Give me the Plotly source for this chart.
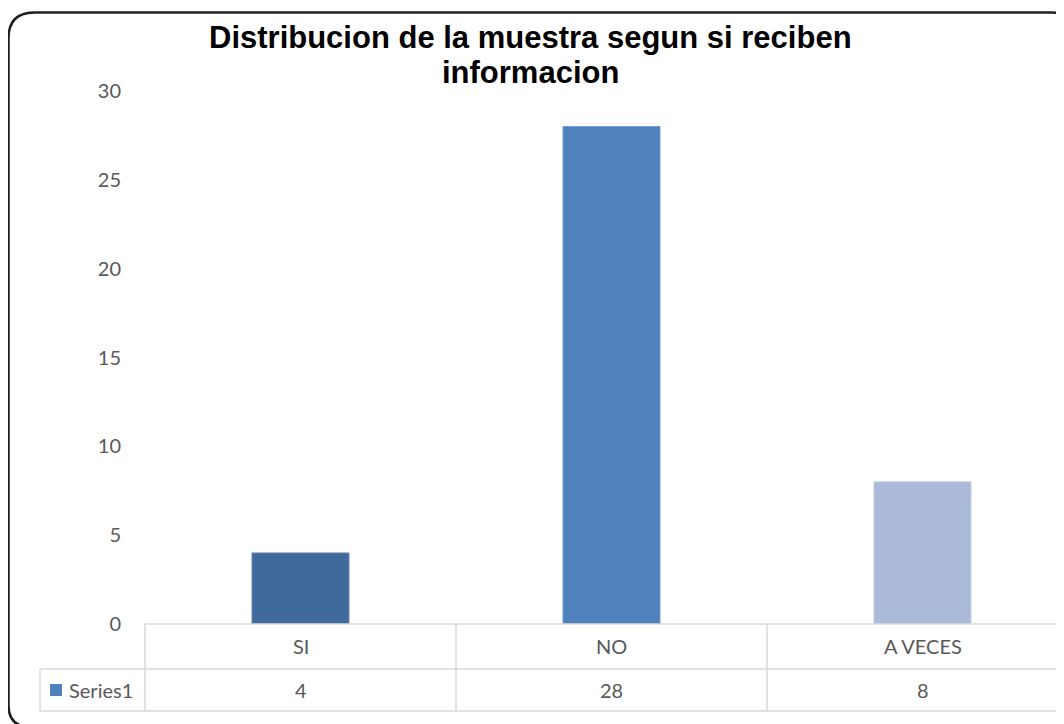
import plotly.graph_objects as go

categories = ["SI", "NO", "A VECES"]
values = [4, 28, 8]
bar_colors = ["#406a9c", "#4f81bd", "#aabad8"]
edge_colors = ["#6a8bb5", "#7a9fcc", "#c3cfe4"]
series_name = "Series1"
title_lines = ["Distribucion de la muestra segun si reciben", "informacion"]
y_ticks = [0, 5, 10, 15, 20, 25, 30]

# The page body has an 8px margin, so reference pixel p maps to figure pixel p - 8.
OFF = 8
W, H = 1064 - OFF, 724 - OFF
L, T = 145 - OFF, 91 - OFF
BOTTOM = 624 - OFF
B = H - BOTTOM
R = 0
PW, PH = W - L - R, BOTTOM - T


def px(x):
    return (x - OFF - L) / PW


def py(y):
    return (BOTTOM - (y - OFF)) / PH


fig = go.Figure()
fig.add_trace(go.Bar(
    x=categories, y=values, name=series_name,
    marker=dict(color=bar_colors, line=dict(color=edge_colors, width=1)),
    width=0.312, showlegend=False,
))

gray = "#595959"
tick_font = dict(family="Lato, Carlito, sans-serif", size=20, color=gray)

annotations = []
for i, (c, v) in enumerate(zip(categories, values)):
    annotations.append(dict(x=i, y=py(646), xref="x", yref="paper", text=c,
                            showarrow=False, font=tick_font, xanchor="center", yanchor="middle"))
    annotations.append(dict(x=i, y=py(690), xref="x", yref="paper", text=str(v),
                            showarrow=False, font=tick_font, xanchor="center", yanchor="middle"))
annotations.append(dict(x=px(67), y=py(690), xref="paper", yref="paper", text=series_name,
                        showarrow=False, font=tick_font, xanchor="left", yanchor="middle"))

title_font = dict(family="Liberation Sans, Arial, sans-serif", size=31, color="#000000", weight="bold")
for line, yc in zip(title_lines, (37, 73)):
    annotations.append(dict(x=px(530), y=py(yc), xref="paper", yref="paper", text=line,
                            showarrow=False, font=title_font, xanchor="center", yanchor="middle"))

line_c = "#d9d9d9"
shapes = []
shapes.append(dict(type="line", xref="paper", yref="paper", x0=0, x1=1, y0=0, y1=0,
                   line=dict(color=line_c, width=1.5)))
for yy in (669, 711):
    shapes.append(dict(type="line", xref="paper", yref="paper", x0=px(40), x1=1,
                       y0=py(yy), y1=py(yy), line=dict(color=line_c, width=1.5)))
shapes.append(dict(type="line", xref="paper", yref="paper", x0=px(40), x1=px(40),
                   y0=py(669), y1=py(711), line=dict(color=line_c, width=1.5)))
shapes.append(dict(type="line", xref="paper", yref="paper", x0=0, x1=0,
                   y0=0, y1=py(711), line=dict(color=line_c, width=1.5)))
for i in range(len(categories) - 1):
    shapes.append(dict(type="line", xref="x", yref="paper", x0=i + 0.5, x1=i + 0.5,
                       y0=0, y1=py(711), line=dict(color=line_c, width=1.5)))
shapes.append(dict(type="rect", xref="paper", yref="paper", x0=px(50), x1=px(62),
                   y0=py(684), y1=py(696), fillcolor="#4f81bd", line=dict(width=0)))

# rounded outer border (right and bottom sides fall just outside the picture)
xl, xr, yt, yb = 8.5, 1071, 12.5, 727
r_tl, r_tr, r_br, r_bl = 26, 19, 19, 22
path = (f"M {px(xl)},{py(yt + r_tl)} "
        f"Q {px(xl)},{py(yt)} {px(xl + r_tl)},{py(yt)} "
        f"L {px(xr - r_tr)},{py(yt)} "
        f"Q {px(xr)},{py(yt)} {px(xr)},{py(yt + r_tr)} "
        f"L {px(xr)},{py(yb - r_br)} "
        f"Q {px(xr)},{py(yb)} {px(xr - r_br)},{py(yb)} "
        f"L {px(xl + r_bl)},{py(yb)} "
        f"Q {px(xl)},{py(yb)} {px(xl)},{py(yb - r_bl)} Z")
shapes.append(dict(type="path", xref="paper", yref="paper", path=path,
                   line=dict(color="#1f1f1f", width=2.5)))

col_w = 311
x_end = -0.5 + PW / col_w

fig.update_layout(
    width=W, height=H,
    margin=dict(l=L, r=R, t=T, b=B, pad=0),
    paper_bgcolor="white", plot_bgcolor="white",
    xaxis=dict(range=[-0.5, x_end], showticklabels=False,
               showgrid=False, zeroline=False, showline=False, ticks=""),
    yaxis=dict(range=[0, 30], tickvals=y_ticks, showgrid=False, zeroline=False,
               showline=False, ticks="", tickfont=tick_font, ticklabelstandoff=23),
    annotations=annotations,
    shapes=shapes,
)

fig.write_html("out.html")
